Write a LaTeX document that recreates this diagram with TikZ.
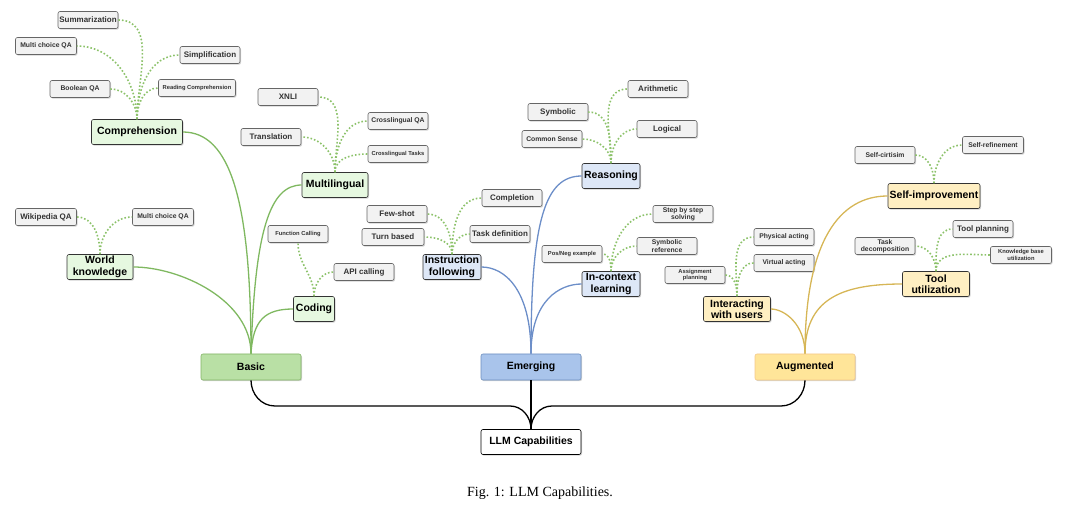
\documentclass[tikz,border=0pt]{standalone}
\usepackage{fontspec}
\setmainfont{Liberation Sans}
\newfontfamily\capfont{Liberation Serif}
\usetikzlibrary{shadows}
\definecolor{gfill}{HTML}{E6F8E0}\definecolor{gdraw}{HTML}{333333}
\definecolor{bfill}{HTML}{B9E0A5}\definecolor{bdraw}{HTML}{82B366}
\definecolor{efill}{HTML}{A9C4EB}\definecolor{edraw}{HTML}{6C8EBF}
\definecolor{afill}{HTML}{FFE599}\definecolor{adraw}{HTML}{F4C88A}
\definecolor{lfill}{HTML}{F2F2F2}
\definecolor{gline}{HTML}{7FB860}\definecolor{bline}{HTML}{6C8EC8}\definecolor{aline}{HTML}{D6B656}
\definecolor{dline}{HTML}{8CC26A}
\begin{document}
\begin{tikzpicture}[x=1pt,y=-1pt,
 base/.style={rounded corners=2pt,draw=gdraw,line width=0.6pt,align=center,font=\bfseries,inner sep=1pt,
   drop shadow={opacity=0.35,shadow xshift=1pt,shadow yshift=-1.2pt}},
 leaf/.style={base,fill=lfill,draw=gray!80!black,minimum width=60pt,minimum height=17pt,font=\fontsize{8}{8.5}\bfseries\selectfont,text=black!80},
 sleaf/.style={leaf,font=\fontsize{6.8}{7.4}\bfseries\selectfont},
 tleaf/.style={leaf,font=\fontsize{5.8}{6.5}\bfseries\selectfont},
 cat/.style={base,minimum height=25pt,font=\fontsize{10.5}{11.5}\bfseries\selectfont},
 gcat/.style={cat,fill=gfill},
 ecat/.style={cat,fill=efill!40},
 acat/.style={cat,fill=afill!60},
 root/.style={base,minimum width=100pt,minimum height=26pt,font=\fontsize{10.5}{11.5}\bfseries\selectfont},
 dot/.style={dline,dotted,line width=1.6pt},
 sol/.style={line width=1.3pt}
]
\useasboundingbox (0,0) rectangle (1080,513);
% roots
\node[root,fill=bfill,draw=bdraw] (basic) at (251,367) {Basic};
\node[root,fill=efill,draw=edraw] (emer) at (531,367) {Emerging};
\node[root,fill=afill,draw=adraw] (aug) at (805,367) {Augmented};
\node[root,fill=white,draw=black,minimum height=25pt] (llm) at (531,442) {LLM Capabilities};
% basic categories
\node[gcat,minimum width=91pt] (comp) at (137,132) {Comprehension};
\node[gcat,minimum width=66pt] (multi) at (335,185) {Multilingual};
\node[gcat,minimum width=66pt] (world) at (100,267) {World\\knowledge};
\node[gcat,minimum width=41pt] (code) at (314,309) {Coding};
% emerging categories
\node[ecat,minimum width=58pt] (reas) at (611,176) {Reasoning};
\node[ecat,minimum width=58pt] (instr) at (452,267) {Instruction\\following};
\node[ecat,minimum width=58pt] (icl) at (611,284) {In-context\\learning};
% augmented categories
\node[acat,minimum width=92pt] (self) at (934,196) {Self-improvement};
\node[acat,minimum width=67pt] (tool) at (936,284) {Tool\\utilization};
\node[acat,minimum width=67pt] (inter) at (737,309) {Interacting\\with users};
% leaves
\node[leaf] (summ) at (88,20) {Summarization};
\node[sleaf,minimum width=61pt] (mcqa) at (46,46) {Multi choice QA};
\node[leaf] (simp) at (210,55) {Simplification};
\node[sleaf] (bool) at (80,89) {Boolean QA};
\node[tleaf,minimum width=77pt] (read) at (197,88) {Reading Comprehension};
\node[leaf] (xnli) at (288,97) {XNLI};
\node[sleaf] (cqa) at (398,121) {Crosslingual QA};
\node[leaf] (trans) at (271,137) {Translation};
\node[tleaf] (ctask) at (398,154) {Crosslingual Tasks};
\node[leaf,minimum width=61pt] (wiki) at (46,217) {Wikipedia QA};
\node[sleaf,minimum width=61pt] (mcqa2) at (163,217) {Multi choice QA};
\node[tleaf] (func) at (298,234) {Function Calling};
\node[leaf] (api) at (364,272) {API calling};
\node[leaf] (arith) at (658,89) {Arithmetic};
\node[leaf] (symb) at (558,112) {Symbolic};
\node[leaf] (logi) at (667,129) {Logical};
\node[sleaf] (cs) at (552,139) {Common Sense};
\node[leaf] (compl) at (512,198) {Completion};
\node[leaf] (few) at (397,214) {Few-shot};
\node[leaf,minimum width=62pt] (turn) at (393,237) {Turn based};
\node[leaf] (task) at (500,234) {Task definition};
\node[sleaf] (step) at (683,214) {Step by step\\solving};
\node[sleaf] (symr) at (667,246) {Symbolic\\reference};
\node[tleaf] (pos) at (572,254) {Pos/Neg example};
\node[sleaf] (crit) at (885,155) {Self-cirtisim};
\node[sleaf,minimum width=61pt] (ref) at (993,145) {Self-refinement};
\node[leaf] (tplan) at (983,229) {Tool planning};
\node[sleaf] (tdec) at (885,246) {Task\\decomposition};
\node[tleaf,minimum width=61pt] (kb) at (1021,255) {Knowledge base\\utilization};
\node[sleaf] (phys) at (784,237) {Physical acting};
\node[sleaf] (virt) at (784,263) {Virtual acting};
\node[tleaf] (assign) at (695,275) {Assignment\\planning};
% root connectors
\draw[sol] (llm.north) to[out=90,in=0] (510,406) -- (275,406) to[out=180,in=270] (basic.south);
\draw[sol] (llm.north) -- (emer.south);
\draw[sol] (llm.north) to[out=90,in=180] (552,406) -- (781,406) to[out=0,in=270] (aug.south);
% category connectors
\begin{scope}[sol,gline]
\draw (basic.north) .. controls (251,200) and (230,132) .. (comp.east);
\draw (basic.north) .. controls (251,300) and (180,267) .. (world.east);
\draw (basic.north) .. controls (255,230) and (270,185) .. (multi.west);
\draw (basic.north) .. controls (253,320) and (265,309) .. (code.west);
\end{scope}
\begin{scope}[sol,bline]
\draw (emer.north) .. controls (531,220) and (545,176) .. (reas.west);
\draw (emer.north) .. controls (531,290) and (505,267) .. (instr.east);
\draw (emer.north) .. controls (531,300) and (560,284) .. (icl.west);
\end{scope}
\begin{scope}[sol,aline]
\draw (aug.north) .. controls (805,240) and (840,196) .. (self.west);
\draw (aug.north) .. controls (805,325) and (785,309) .. (inter.east);
\draw (aug.north) .. controls (805,300) and (840,284) .. (tool.west);
\end{scope}
% dotted leaf connectors
\begin{scope}[dot]
\draw (comp.north) to[out=90,in=0] (summ.east);
\draw (comp.north) to[out=90,in=0] (mcqa.east);
\draw (comp.north) to[out=90,in=0] (bool.east);
\draw (comp.north) to[out=90,in=180] (simp.west);
\draw (comp.north) to[out=90,in=180] (read.west);
\draw (multi.north) to[out=90,in=0] (xnli.east);
\draw (multi.north) to[out=90,in=0] (trans.east);
\draw (multi.north) to[out=90,in=180] (cqa.west);
\draw (multi.north) to[out=90,in=180] (ctask.west);
\draw (world.north) to[out=90,in=0] (wiki.east);
\draw (world.north) to[out=90,in=180] (mcqa2.west);
\draw (code.north) to[out=90,in=-90] (func.south);
\draw (code.north) to[out=90,in=180] (api.west);
\draw (reas.north) to[out=90,in=180] (arith.west);
\draw (reas.north) to[out=90,in=180] (logi.west);
\draw (reas.north) to[out=90,in=0] (symb.east);
\draw (reas.north) to[out=90,in=0] (cs.east);
\draw (instr.north) to[out=90,in=180] (compl.west);
\draw (instr.north) to[out=90,in=180] (task.west);
\draw (instr.north) to[out=90,in=0] (few.east);
\draw (instr.north) to[out=90,in=0] (turn.east);
\draw (icl.north) to[out=90,in=180] (step.west);
\draw (icl.north) to[out=90,in=180] (symr.west);
\draw (icl.north) to[out=90,in=0] (pos.east);
\draw (self.north) to[out=90,in=0] (crit.east);
\draw (self.north) to[out=90,in=180] (ref.west);
\draw (tool.north) to[out=90,in=180] (tplan.west);
\draw (tool.north) to[out=90,in=180] (kb.west);
\draw (tool.north) to[out=90,in=0] (tdec.east);
\draw (inter.north) to[out=90,in=180] (phys.west);
\draw (inter.north) to[out=90,in=180] (virt.west);
\draw (inter.north) to[out=90,in=0] (assign.east);
\end{scope}
\node[font=\capfont\fontsize{14}{16}\selectfont] (cap) at (540,493) {Fig. 1: LLM Capabilities.};
\end{tikzpicture}
\end{document}
